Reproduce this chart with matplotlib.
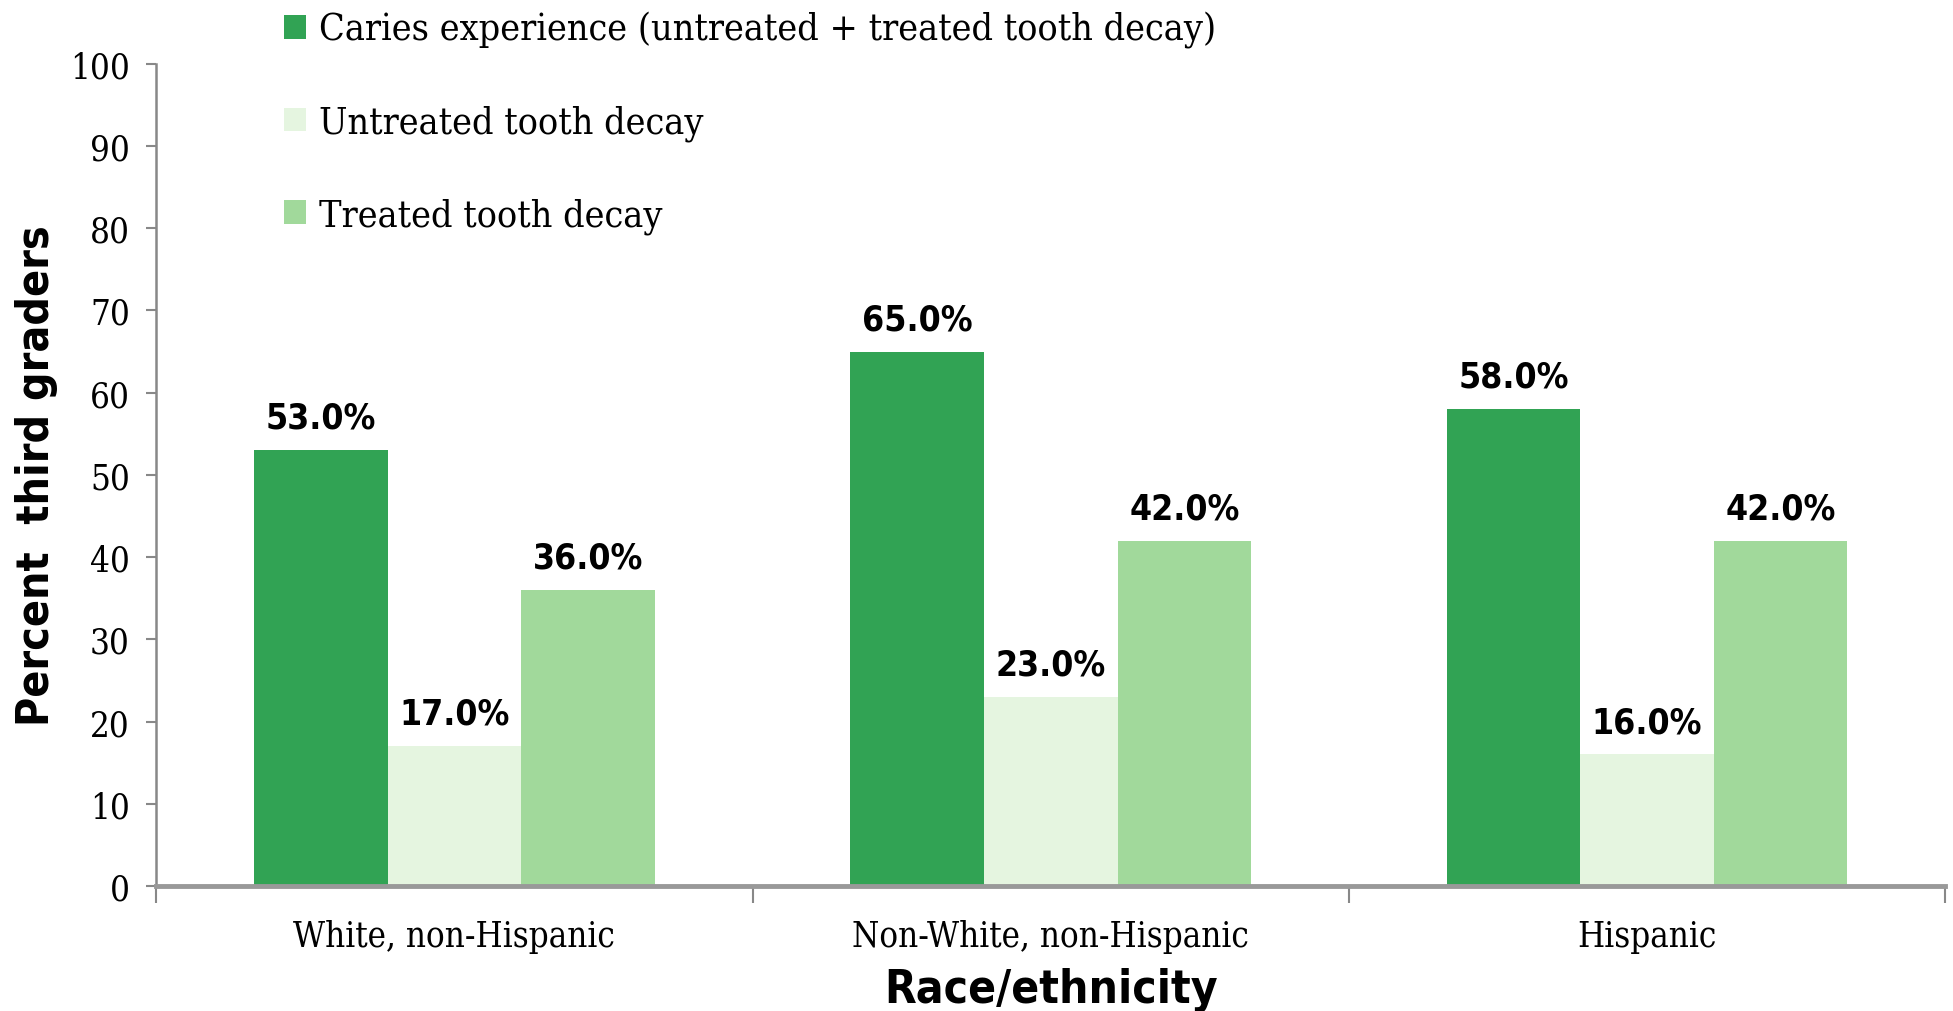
import matplotlib
matplotlib.use("Agg")
import matplotlib.pyplot as plt
import numpy as np
from matplotlib.patches import Patch

categories = ["White, non-Hispanic", "Non-White, non-Hispanic", "Hispanic"]
series_names = ["Caries experience (untreated + treated tooth decay)",
                "Untreated tooth decay",
                "Treated tooth decay"]
caries = [53.0, 65.0, 58.0]
untreated = [17.0, 23.0, 16.0]
treated = [36.0, 42.0, 42.0]
colors = ["#31A354", "#E5F5E0", "#A1D99B"]
y_ticks = list(range(0, 101, 10))

serif = dict(family="DejaVu Serif", stretch="condensed")
sans_bold = dict(family="DejaVu Sans", stretch="condensed", weight="bold")

fig = plt.figure(figsize=(19.53, 10.12), dpi=100)
ax = fig.add_axes([0.080, 0.1235, 0.916, 0.8125])

x = np.arange(len(categories))
w = 0.224
for i, (vals, c) in enumerate(zip([caries, untreated, treated], colors)):
    bars = ax.bar(x + (i - 1) * w, vals, width=w, color=c, edgecolor="none", zorder=2)
    for b, v in zip(bars, vals):
        ax.annotate(f"{v:.1f}%", (b.get_x() + b.get_width() / 2, v),
                    xytext=(0, 11), textcoords="offset points",
                    ha="center", va="bottom", fontsize=25.5, **sans_bold)

ax.set_xlim(-0.5, 2.5)
ax.set_ylim(0, 100)
ax.set_yticks(y_ticks)
ax.set_yticklabels([str(t) for t in y_ticks], fontsize=25, **serif)
ax.set_xticks(x)
ax.set_xticklabels(categories, fontsize=25, **serif)
ax.set_xticks([-0.5, 0.5, 1.5, 2.5], minor=True)
ax.tick_params(axis="x", which="major", length=0, pad=24)
ax.tick_params(axis="x", which="minor", length=12, width=1.5, color="#888888", direction="out")
ax.tick_params(axis="y", length=7, width=1.5, color="#888888", pad=12)

for s in ["top", "right"]:
    ax.spines[s].set_visible(False)
ax.spines["left"].set_color("#888888")
ax.spines["left"].set_linewidth(1.8)
ax.spines["bottom"].set_color("#999999")
ax.spines["bottom"].set_linewidth(3.5)

ax.set_ylabel("Percent  third graders", fontsize=32, **sans_bold)
ax.yaxis.set_label_coords(-0.055, 0.5)
ax.set_xlabel("Race/ethnicity", fontsize=33, **sans_bold)
ax.xaxis.set_label_coords(0.5, -0.098)

handles = [Patch(facecolor=c, edgecolor="none") for c in colors]
leg = fig.legend(handles, series_names, loc="upper left", bbox_to_anchor=(0.128, 1.021),
                 frameon=False, handlelength=0.6, handleheight=0.6, handletextpad=0.35,
                 labelspacing=1.5, prop=dict(size=27, **serif))

fig.savefig("out.png", dpi=100)
